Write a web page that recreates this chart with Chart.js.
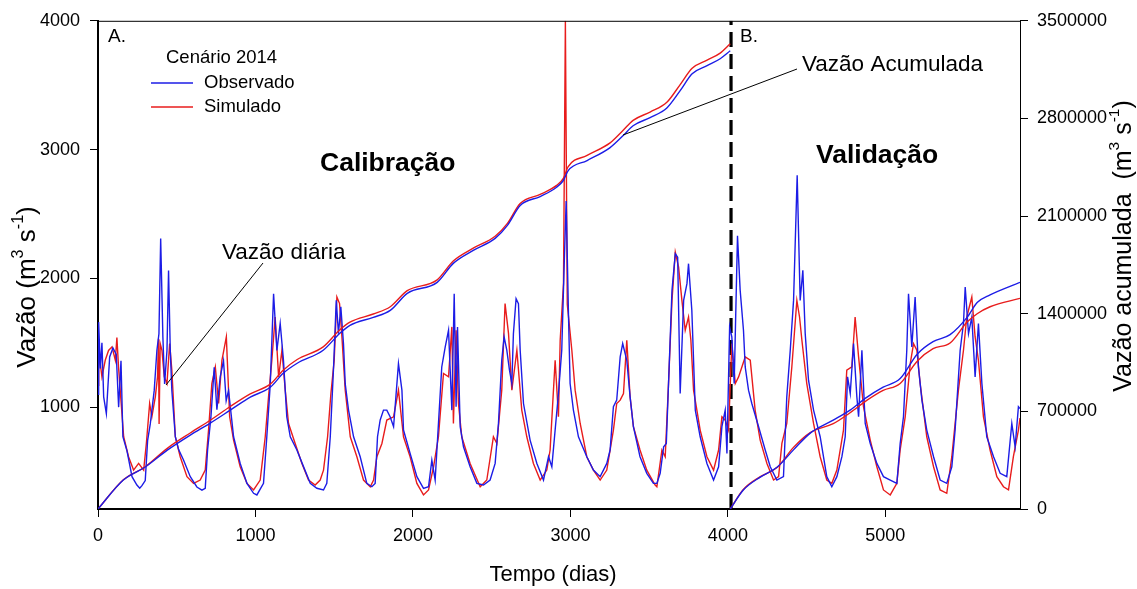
<!DOCTYPE html>
<html>
<head>
<meta charset="utf-8">
<script src="https://cdn.jsdelivr.net/npm/chart.js@4"></script>
<style>
html,body{margin:0;padding:0;background:#fff;}
canvas{display:block;}
</style>
</head>
<body>
<canvas id="c" width="1137" height="589"></canvas>
<script>
// ---------- DATA ----------
const obsDays = [0,4,15,25,36,53,74,95,116,131,146,158,184,216,247,265,279,300,315,332,357,374,387,398,412,423,438,448,459,469,491,512,543,586,628,660,681,696,717,738,755,776,797,814,829,861,903,946,988,1009,1051,1072,1094,1115,1136,1157,1178,1199,1221,1263,1305,1348,1390,1432,1453,1475,1496,1513,1527,1542,1559,1570,1591,1623,1665,1707,1739,1760,1775,1792,1813,1834,1855,1877,1908,1930,1940,1982,2025,2067,2099,2120,2141,2162,2183,2205,2226,2247,2262,2274,2283,2300,2321,2363,2406,2448,2490,2522,2543,2564,2579,2596,2613,2628,2638,2655,2670,2681,2702,2744,2787,2829,2861,2882,2903,2924,2945,2960,2973,2988,2998,3019,3051,3104,3146,3189,3231,3252,3273,3294,3316,3332,3358,3379,3400,3442,3485,3527,3549,3570,3592,3609,3623,3645,3666,3681,3697,3719,3740,3750,3771,3793,3824,3867,3909,3941,3962,3983,3994,4011,4025,4040,4061,4078,4099,4110,4131,4152,4195,4237,4269,4311,4353,4374,4396,4417,4440,4459,4476,4491,4512,4544,4586,4628,4660,4692,4724,4745,4760,4777,4798,4819,4830,4851,4872,4904,4946,4988,5031,5073,5094,5115,5136,5147,5168,5189,5210,5232,5263,5306,5348,5390,5422,5443,5475,5496,5507,5528,5549,5570,5591,5613,5644,5687,5729,5771,5803,5824,5845,5855];
const obsFlow = [1100,1660,1300,1500,1080,950,1390,1460,1410,1000,1360,770,660,460,395,370,390,430,740,870,1130,1440,1570,2310,1545,1180,1440,2060,1440,1130,770,670,590,460,380,355,370,670,920,1310,980,1235,1360,1050,1130,770,563,408,331,318,408,770,1180,1880,1440,1650,1360,925,770,667,538,408,370,357,408,770,1310,1830,1570,1780,1490,1180,977,770,615,408,382,408,770,900,977,977,925,848,1338,1132,822,641,460,369,382,589,434,873,1312,1468,1597,977,1881,1003,1623,848,692,537,408,395,434,563,873,1364,1545,1442,1287,1183,1571,1842,1804,1442,1028,744,563,434,615,537,822,1106,1442,2088,2600,1700,1183,977,770,615,511,460,563,667,1003,1054,1390,1493,1364,1080,848,615,486,408,408,486,692,718,1183,1907,2191,2165,1106,1829,1959,2114,1752,977,770,563,434,537,848,977,641,1623,1545,1183,2330,1907,1597,1312,1132,1028,848,667,537,434,460,1080,1442,1829,2800,1829,2062,1571,1209,977,770,460,382,460,615,770,1235,1106,1493,1080,925,1442,873,718,563,460,434,408,718,925,1442,1881,1468,1855,1312,1054,822,615,434,408,537,822,1442,1649,1933,1571,1700,1235,1649,1183,770,615,486,460,873,692,1003,990];

const simDays = [0,4,25,46,67,89,110,120,131,141,163,194,226,258,290,307,328,342,364,378,384,388,395,406,421,438,455,469,491,522,565,607,649,681,702,723,745,766,787,815,836,861,903,946,988,1030,1062,1083,1104,1125,1147,1168,1189,1210,1252,1295,1337,1379,1411,1432,1458,1479,1500,1517,1534,1549,1570,1602,1644,1686,1729,1750,1771,1803,1834,1877,1908,1940,1982,2025,2067,2099,2131,2162,2194,2226,2247,2257,2274,2289,2310,2363,2427,2469,2511,2533,2564,2585,2607,2628,2660,2691,2723,2765,2808,2850,2871,2903,2924,2935,2956,2968,2980,3009,3030,3062,3104,3146,3189,3231,3252,3273,3294,3316,3337,3358,3379,3400,3442,3485,3538,3549,3581,3602,3623,3645,3666,3687,3708,3729,3750,3765,3782,3824,3867,3909,3941,3962,3983,4004,4025,4047,4068,4110,4142,4173,4205,4248,4290,4322,4343,4374,4406,4438,4455,4470,4501,4544,4586,4628,4660,4692,4734,4755,4787,4808,4830,4861,4904,4946,4988,5031,5073,5094,5126,5158,5179,5200,5221,5263,5306,5348,5390,5422,5464,5496,5517,5549,5570,5591,5623,5665,5708,5750,5782,5813,5845,5855];
const simFlow = [1170,1440,1235,1364,1440,1468,1364,1540,1300,1132,770,615,511,563,511,718,1028,925,1080,1235,1530,870,1493,1442,1235,1183,1493,1287,770,615,460,408,434,511,822,1183,1312,1028,1364,1545,925,744,537,408,357,434,770,1080,1364,1700,1235,1442,1132,873,718,563,434,395,434,511,770,1106,1364,1855,1804,1545,1132,770,615,434,382,434,615,718,900,925,1132,770,615,408,318,357,537,770,1261,1235,1623,873,1597,1028,770,563,382,434,770,718,1132,1804,1571,1132,1442,977,770,563,434,511,667,1364,925,1519,1959,4000,1800,1442,1132,873,615,511,434,511,667,822,1028,1054,1106,1519,1080,848,667,511,395,382,667,615,1183,1829,2204,2088,1829,1597,1700,1519,1132,822,615,511,667,925,899,822,1493,1183,1235,1390,1364,977,744,563,434,460,718,873,1312,1829,1700,1519,1183,873,615,434,408,511,822,1287,1312,1700,1390,1003,744,537,357,318,408,667,925,1338,1493,1442,1183,770,537,357,331,615,1132,1442,1700,1855,1545,1364,925,667,460,382,357,615,822,915];

const cumCalDays = [0,161,300,440,586,713,840,967,1094,1176,1265,1430,1536,1600,1748,1856,1964,2154,2256,2383,2522,2600,2681,2808,2910,2955,2986,3106,3252,3335,3398,3506,3614,3697,3773,3868,3951,4015];
const cumCalObs = [0,208000,301000,422000,530000,616000,709000,802000,873000,973000,1045000,1138000,1260000,1317000,1374000,1424000,1546000,1625000,1761000,1854000,1940000,2033000,2176000,2240000,2305000,2355000,2426000,2498000,2591000,2677000,2748000,2806000,2877000,2999000,3120000,3178000,3228000,3285000];
const cumCalSim = [0,209000,303000,435000,545000,636000,735000,825000,895000,995000,1072000,1162000,1285000,1340000,1398000,1450000,1565000,1643000,1778000,1870000,1955000,2048000,2190000,2255000,2318000,2370000,2455000,2535000,2625000,2715000,2786000,2846000,2918000,3043000,3160000,3218000,3268000,3335000];

const cumValDays = [4015,4098,4206,4314,4415,4523,4669,4776,4884,4986,5094,5202,5303,5411,5519,5583,5665,5855];
const cumValObs = [0,136000,229000,301000,422000,544000,637000,709000,802000,873000,935000,1110000,1200000,1250000,1374000,1480000,1535000,1625000];
const cumValSim = [0,140000,232000,300000,440000,548000,612000,690000,780000,850000,900000,1060000,1150000,1190000,1340000,1400000,1450000,1510000];

const xTicks = [0,1000,2000,3000,4000,5000];
const yTicks = [1000,2000,3000,4000];
const y2Ticks = [0,700000,1400000,2100000,2800000,3500000];
const splitDay = 4020;
const xMax = 5855, yMin = 209, yMax = 4000, y2Max = 3500000;

// ---------- STYLE ----------
const FONT = "'Liberation Sans', Arial, sans-serif";
const BLUE = '#1c1ce6';
const RED = '#e81c1c';

const pts = (xs, ys) => xs.map((x, i) => ({x, y: ys[i]}));

function drawRich(ctx, parts, size, cx, cy, rot) {
  ctx.save();
  ctx.translate(cx, cy);
  ctx.rotate(rot);
  let total = 0;
  parts.forEach(p => {
    ctx.font = (p.sup ? size * 0.62 : size) + 'px ' + FONT;
    p.w = ctx.measureText(p.t).width;
    total += p.w;
  });
  let x = -total / 2;
  ctx.textBaseline = 'middle';
  ctx.textAlign = 'left';
  ctx.fillStyle = '#000';
  parts.forEach(p => {
    ctx.font = (p.sup ? size * 0.62 : size) + 'px ' + FONT;
    ctx.fillText(p.t, x, p.sup ? -size * 0.38 : 0);
    x += p.w;
  });
  ctx.restore();
}

const deco = {
  id: 'deco',
  beforeDraw(chart) {
    const ctx = chart.ctx;
    ctx.save();
    ctx.fillStyle = '#fff';
    ctx.fillRect(0, 0, chart.width, chart.height);
    ctx.restore();
  },
  afterDraw(chart) {
    const ctx = chart.ctx;
    const a = chart.chartArea;
    ctx.save();
    // top frame line
    ctx.strokeStyle = '#000';
    ctx.lineWidth = 1;
    ctx.beginPath();
    ctx.moveTo(a.left, a.top + 0.5);
    ctx.lineTo(a.right, a.top + 0.5);
    ctx.stroke();

    ctx.fillStyle = '#000';
    ctx.textBaseline = 'middle';
    ctx.textAlign = 'left';
    ctx.font = '19px ' + FONT;
    ctx.fillText('A.', 108, 37);
    ctx.fillText('B.', 740, 37);
    ctx.font = '18.5px ' + FONT;
    ctx.fillText('Cenário 2014', 166, 58);
    ctx.fillText('Observado', 204, 83);
    ctx.fillText('Simulado', 204, 107);
    ctx.font = '22.5px ' + FONT;
    ctx.fillText('Vazão diária', 222, 253);
    ctx.fillText('Vazão Acumulada', 802, 65);

    ctx.lineWidth = 1.5;
    ctx.strokeStyle = BLUE;
    ctx.beginPath(); ctx.moveTo(151, 83); ctx.lineTo(193, 83); ctx.stroke();
    ctx.strokeStyle = RED;
    ctx.beginPath(); ctx.moveTo(151, 107); ctx.lineTo(193, 107); ctx.stroke();

    // leader lines
    ctx.strokeStyle = '#000';
    ctx.lineWidth = 1;
    ctx.beginPath(); ctx.moveTo(263, 263); ctx.lineTo(166, 385); ctx.stroke();
    ctx.beginPath(); ctx.moveTo(797, 69); ctx.lineTo(623, 135); ctx.stroke();

    ctx.font = 'bold 26.5px ' + FONT;
    ctx.fillText('Calibração', 320, 164);
    ctx.fillText('Validação', 816, 156);

    // axis titles
    drawRich(ctx, [{t:'Vazão (m'},{t:'3',sup:true},{t:' s'},{t:'-1',sup:true},{t:')'}], 26, 28, 287, -Math.PI/2);
    drawRich(ctx, [{t:'Vazão acumulada  (m'},{t:'3',sup:true},{t:' s'},{t:'-1',sup:true},{t:')'}], 25, 1124, 246, -Math.PI/2);
    drawRich(ctx, [{t:'Tempo (dias)'}], 22, 553, 575, 0);
    ctx.restore();
  }
};

const tickFont = {size: 18, family: FONT};

new Chart(document.getElementById('c'), {
  type: 'line',
  data: {
    datasets: [
      {data: pts(cumCalDays, cumCalObs), yAxisID: 'y2', borderColor: BLUE, borderWidth: 1.4, pointRadius: 0, cubicInterpolationMode: 'monotone'},
      {data: pts(cumCalDays, cumCalSim), yAxisID: 'y2', borderColor: RED, borderWidth: 1.4, pointRadius: 0, cubicInterpolationMode: 'monotone'},
      {data: pts(cumValDays, cumValObs), yAxisID: 'y2', borderColor: BLUE, borderWidth: 1.4, pointRadius: 0, cubicInterpolationMode: 'monotone'},
      {data: pts(cumValDays, cumValSim), yAxisID: 'y2', borderColor: RED, borderWidth: 1.4, pointRadius: 0, cubicInterpolationMode: 'monotone'},
      {data: pts(obsDays, obsFlow), yAxisID: 'y', borderColor: BLUE, borderWidth: 1.4, pointRadius: 0, tension: 0},
      {data: pts(simDays, simFlow), yAxisID: 'y', borderColor: RED, borderWidth: 1.4, pointRadius: 0, tension: 0},
      {data: [{x: splitDay, y: yMin}, {x: splitDay, y: yMax}], yAxisID: 'y', borderColor: '#000', borderWidth: 3.2, borderDash: [15, 7], pointRadius: 0}
    ]
  },
  options: {
    responsive: false,
    animation: false,
    devicePixelRatio: 1,
    layout: {padding: {top: 20, left: 0, right: 0, bottom: 0}},
    plugins: {legend: {display: false}, tooltip: {enabled: false}},
    scales: {
      x: {
        type: 'linear', min: 0, max: xMax,
        afterBuildTicks: s => { s.ticks = xTicks.map(v => ({value: v})); },
        afterFit: s => { s.height = 80; },
        ticks: {font: tickFont, color: '#000', padding: 8, maxRotation: 0, autoSkip: false, callback: v => String(v)},
        grid: {drawOnChartArea: false, tickLength: 8, color: '#000'},
        border: {color: '#000', width: 2}
      },
      y: {
        type: 'linear', position: 'left', min: yMin, max: yMax,
        afterBuildTicks: s => { s.ticks = yTicks.map(v => ({value: v})); },
        afterFit: s => { s.width = 98; },
        ticks: {font: tickFont, color: '#000', padding: 10, autoSkip: false, callback: v => String(v)},
        grid: {drawOnChartArea: false, tickLength: 8, color: '#000'},
        border: {color: '#000', width: 2}
      },
      y2: {
        type: 'linear', position: 'right', min: 0, max: y2Max,
        afterBuildTicks: s => { s.ticks = y2Ticks.map(v => ({value: v})); },
        afterFit: s => { s.width = 117; },
        ticks: {font: tickFont, color: '#000', padding: 9, autoSkip: false, callback: v => String(v)},
        grid: {drawOnChartArea: false, tickLength: 8, color: '#000'},
        border: {color: '#000', width: 1}
      }
    }
  },
  plugins: [deco]
});
</script>
</body>
</html>
